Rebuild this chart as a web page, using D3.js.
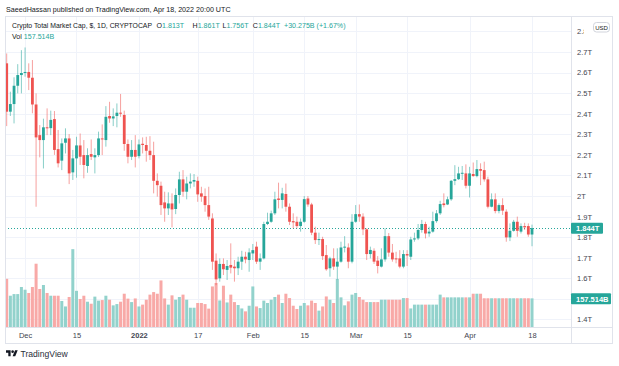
<!DOCTYPE html>
<html><head><meta charset="utf-8">
<script src="https://cdn.jsdelivr.net/npm/d3@7"></script>
<style>body{margin:0;background:#fff}svg{display:block}</style>
</head><body>
<svg id="c" width="619" height="366"></svg>
<script>
// ---- data (values in trillions USD, volume in billions USD) ----
const startDate = "2021-11-26";
const open = [2.645,2.41,2.447,2.536,2.588,2.598,2.603,2.575,2.445,2.296,2.272,2.334,2.33,2.374,2.228,2.172,2.259,2.28,2.115,2.183,2.246,2.199,2.146,2.204,2.188,2.199,2.28,2.272,2.389,2.377,2.389,2.405,2.394,2.253,2.191,2.224,2.194,2.254,2.248,2.22,2.199,2.074,2.05,1.969,1.94,1.964,1.937,2.005,2.081,2.021,2.061,2.07,2.074,2.013,2.0,1.956,1.891,1.686,1.6,1.67,1.641,1.665,1.657,1.649,1.681,1.705,1.689,1.721,1.754,1.681,1.697,1.864,1.875,1.916,1.988,1.981,2.01,1.948,1.878,1.875,1.854,1.875,1.988,1.959,1.822,1.786,1.791,1.713,1.649,1.697,1.657,1.681,1.75,1.75,1.681,1.875,1.912,1.9,1.838,1.718,1.734,1.686,1.657,1.692,1.805,1.725,1.697,1.697,1.657,1.718,1.705,1.789,1.794,1.835,1.864,1.818,1.827,1.878,1.916,1.964,1.959,1.984,2.074,2.082,2.11,2.11,2.05,2.107,2.097,2.131,2.126,2.081,1.948,1.984,1.927,1.956,1.924,1.799,1.831,1.875,1.827,1.854,1.854,1.813];
const high = [2.693,2.507,2.577,2.641,2.709,2.722,2.645,2.661,2.499,2.345,2.376,2.426,2.415,2.413,2.321,2.28,2.329,2.301,2.224,2.288,2.304,2.272,2.232,2.275,2.232,2.313,2.348,2.437,2.458,2.426,2.45,2.496,2.415,2.275,2.272,2.296,2.275,2.285,2.288,2.291,2.264,2.11,2.07,2.021,2.018,2.013,2.037,2.118,2.126,2.094,2.11,2.107,2.094,2.045,2.037,2.045,1.916,1.721,1.697,1.697,1.689,1.77,1.689,1.705,1.734,1.729,1.746,1.767,1.778,1.721,1.875,1.919,1.929,2.021,2.065,2.04,2.061,1.964,1.916,1.9,1.891,2.0,2.0,1.967,1.851,1.822,1.802,1.762,1.705,1.746,1.746,1.778,1.805,1.77,1.912,1.956,1.959,1.916,1.843,1.754,1.746,1.708,1.746,1.843,1.82,1.767,1.729,1.737,1.737,1.737,1.802,1.822,1.864,1.884,1.875,1.851,1.924,1.932,1.977,2.013,1.997,2.078,2.15,2.142,2.146,2.154,2.142,2.163,2.175,2.159,2.167,2.094,2.013,2.013,1.964,1.989,1.935,1.867,1.884,1.9,1.867,1.87,1.867,1.861];
const low = [2.34,2.389,2.353,2.499,2.499,2.58,2.515,2.402,1.948,2.188,2.134,2.296,2.296,2.2,2.139,2.126,2.207,2.058,2.078,2.089,2.151,2.086,2.113,2.175,2.11,2.19,2.199,2.24,2.356,2.34,2.334,2.385,2.22,2.159,2.175,2.139,2.183,2.207,2.167,2.175,2.013,1.997,1.908,1.875,1.908,1.848,1.912,1.964,1.997,1.984,2.037,2.045,1.972,1.972,1.924,1.884,1.641,1.567,1.584,1.616,1.592,1.624,1.584,1.616,1.641,1.673,1.632,1.689,1.67,1.641,1.692,1.859,1.87,1.908,1.94,1.94,1.924,1.859,1.843,1.843,1.827,1.87,1.948,1.81,1.767,1.762,1.689,1.637,1.608,1.641,1.595,1.676,1.726,1.649,1.673,1.87,1.875,1.81,1.689,1.697,1.67,1.624,1.653,1.681,1.705,1.681,1.673,1.649,1.649,1.66,1.689,1.778,1.786,1.822,1.794,1.802,1.822,1.87,1.908,1.945,1.956,1.977,2.053,2.078,2.078,2.037,1.993,2.094,2.091,2.053,2.07,1.94,1.945,1.916,1.916,1.908,1.778,1.781,1.827,1.802,1.818,1.835,1.802,1.756];
const close = [2.41,2.447,2.536,2.588,2.598,2.603,2.575,2.445,2.285,2.272,2.334,2.33,2.37,2.224,2.159,2.256,2.28,2.11,2.183,2.246,2.191,2.151,2.199,2.191,2.199,2.28,2.277,2.385,2.377,2.387,2.405,2.402,2.253,2.191,2.224,2.191,2.251,2.248,2.22,2.199,2.074,2.053,1.956,1.94,1.964,1.935,2.005,2.081,2.021,2.061,2.07,2.078,2.008,1.997,1.956,1.9,1.681,1.595,1.67,1.644,1.66,1.652,1.649,1.681,1.705,1.692,1.726,1.737,1.681,1.697,1.864,1.875,1.916,1.984,1.981,2.013,1.948,1.875,1.872,1.854,1.875,1.985,1.959,1.822,1.786,1.791,1.708,1.644,1.697,1.657,1.681,1.75,1.754,1.681,1.875,1.912,1.9,1.838,1.718,1.738,1.681,1.66,1.692,1.805,1.725,1.692,1.692,1.657,1.718,1.711,1.789,1.794,1.835,1.864,1.818,1.827,1.878,1.916,1.961,1.956,1.984,2.074,2.082,2.11,2.113,2.05,2.11,2.097,2.131,2.123,2.081,1.948,1.984,1.927,1.956,1.929,1.799,1.831,1.875,1.831,1.854,1.848,1.813,1.844];
const volume = [265,172,181,181,220,205,187,220,348,209,231,187,172,172,172,143,113,165,428,199,154,172,139,128,167,145,148,172,150,119,126,139,183,156,137,157,113,123,150,178,192,183,256,157,123,174,150,165,178,150,106,106,132,132,126,101,223,242,146,227,135,178,137,121,102,86,117,223,113,104,145,132,150,165,178,132,183,159,117,99,117,132,119,145,132,90,113,168,150,132,264,163,119,141,178,187,165,150,137,137,137,137,150,150,150,150,150,150,159,159,102,123,123,123,123,123,123,123,178,163,163,163,163,163,163,163,163,183,183,183,158,158,158,158,158,158,158,158,158,158,158,158,158,157.514];
const priceTicks = [1.4,1.5,1.6,1.7,1.8,1.9,2.0,2.1,2.2,2.3,2.4,2.5,2.6,2.7,2.8];
const timeTickDates = ["2021-12-01","2021-12-15","2022-01-01","2022-01-17","2022-02-01","2022-02-15","2022-03-01","2022-03-15","2022-04-01","2022-04-18"];
const timeTickLabels = ["Dec","15","2022","17","Feb","15","Mar","15","Apr","18"];
const lastPrice = 1.844, lastVolume = 157.514;
const legendTitle = "Crypto Total Market Cap, $, 1D, CRYPTOCAP";
const legendKeys = ["O", "H", "L", "C"];
const legendVals = ["1.813T", "1.861T", "1.756T", "1.844T"];
const legendChange = "+30.275B (+1.67%)";

// ---- layout ----
const FONT = "'Liberation Sans', Arial, sans-serif";
const green = "#26a69a", red = "#ef5350";
const L = 5, R = 613, T = 16, B = 344, axisX = 571, plotB = 327;
const parse = d3.utcParse("%Y-%m-%d");
const t0 = parse(startDate);
const dates = open.map((_, i) => d3.utcDay.offset(t0, i));
const data = dates.map((d, i) => ({d, o: open[i], h: high[i], l: low[i], c: close[i], v: volume[i]}));

const x = d3.scaleUtc().domain([t0, parse("2022-04-18")]).range([6.7, 532]);
const y = d3.scaleLinear().domain([1.3635, 2.875]).range([plotB, T]);
const yv = d3.scaleLinear().domain([0, 1710]).range([plotB, T]);

const svg = d3.select("#c").style("font-family", FONT);
svg.append("rect").attr("width", 619).attr("height", 366).attr("fill", "#fff");

// header
svg.append("text").attr("x", 6).attr("y", 12).style("font-size", "7.15px").attr("fill", "#131722")
  .text("SaeedHassan published on TradingView.com, Apr 18, 2022 20:00 UTC");

const defs = svg.append("defs");
defs.append("clipPath").attr("id", "plot").append("rect").attr("x", L).attr("y", T).attr("width", axisX - L).attr("height", plotB - T);

// grid
const grid = svg.append("g");
grid.selectAll("line.h").data(priceTicks).join("line")
  .attr("x1", L).attr("x2", axisX).attr("y1", d => Math.round(y(d)) + 0.5).attr("y2", d => Math.round(y(d)) + 0.5)
  .attr("stroke", "#f0f3fa");
grid.selectAll("line.v").data(timeTickDates).join("line")
  .attr("x1", d => Math.round(x(parse(d))) + 0.5).attr("x2", d => Math.round(x(parse(d))) + 0.5)
  .attr("y1", T).attr("y2", plotB).attr("stroke", "#f0f3fa");

const plot = svg.append("g").attr("clip-path", "url(#plot)");

// volume
plot.selectAll("rect.vol").data(data).join("rect")
  .attr("x", d => x(d.d) - 1.5).attr("width", 3)
  .attr("y", d => yv(d.v)).attr("height", d => plotB - yv(d.v))
  .attr("fill", d => d.c >= d.o ? "#92d2cc" : "#f8a9a7");

// price line
plot.append("line").attr("x1", L).attr("x2", axisX).attr("y1", Math.round(y(lastPrice)) + 0.5).attr("y2", Math.round(y(lastPrice)) + 0.5)
  .attr("stroke", green).attr("stroke-dasharray", "1,2");

// wicks
plot.selectAll("line.wick").data(data).join("line")
  .attr("x1", d => x(d.d)).attr("x2", d => x(d.d))
  .attr("y1", d => y(d.h)).attr("y2", d => y(d.l))
  .attr("stroke", d => d.c >= d.o ? green : red).attr("stroke-opacity", 0.55).attr("stroke-width", 1);

// bodies
plot.selectAll("rect.body").data(data).join("rect")
  .attr("x", d => x(d.d) - 1.4).attr("width", 2.8)
  .attr("y", d => y(Math.max(d.o, d.c)))
  .attr("height", d => Math.max(1, Math.abs(y(d.o) - y(d.c))))
  .attr("fill", d => d.c >= d.o ? green : red);

// frame
const frame = svg.append("g").attr("stroke", "#e0e3eb").attr("fill", "none");
frame.append("rect").attr("x", L + 0.5).attr("y", T + 0.5).attr("width", R - L - 1).attr("height", B - T - 1);
frame.append("line").attr("x1", axisX + 0.5).attr("x2", axisX + 0.5).attr("y1", T).attr("y2", B);
frame.append("line").attr("x1", L).attr("x2", R).attr("y1", plotB + 0.5).attr("y2", plotB + 0.5);

// price axis (labels hidden behind the volume badge are skipped)
const fmtP = d => (Math.round(d * 10) / 10) + "T";
const visibleTicks = priceTicks.filter(p => Math.abs(y(p) - yv(lastVolume)) > 8);
const pAxis = svg.append("g").attr("transform", `translate(${axisX},0)`)
  .call(d3.axisRight(y).tickValues(visibleTicks).tickFormat(fmtP).tickSize(0).tickPadding(6));
pAxis.select(".domain").remove();
pAxis.selectAll("text").attr("fill", "#434651").style("font-size", "7.5px").style("font-family", FONT);

// time axis
const tAxis = svg.append("g").attr("transform", `translate(0,${plotB})`)
  .call(d3.axisBottom(x).tickValues(timeTickDates.map(parse)).tickFormat((d, i) => timeTickLabels[i]).tickSize(0).tickPadding(6));
tAxis.select(".domain").remove();
tAxis.selectAll("text").attr("fill", "#434651").style("font-size", "7.5px").style("font-family", FONT)
  .style("font-weight", (d, i) => timeTickLabels[i] === "2022" ? "bold" : "normal");

// legend
const leg = svg.append("g").style("font-size", "7.1px").attr("fill", "#131722");
leg.append("text").attr("x", 12).attr("y", 28.3).style("font-size", "6.85px").text(legendTitle);
const keyX = [156.5, 192.5, 222.5, 252.8];
legendKeys.forEach((k, i) => {
  const t = leg.append("text").attr("x", keyX[i]).attr("y", 28.3);
  t.append("tspan").text(k);
  t.append("tspan").attr("fill", green).text(legendVals[i]);
});
leg.append("text").attr("x", 284).attr("y", 28.3).attr("fill", green).text(legendChange);
const l2 = leg.append("text").attr("x", 12).attr("y", 38.5);
l2.append("tspan").text("Vol ");
l2.append("tspan").attr("fill", green).text("157.514B");

// value labels on axis
const lbl = svg.append("g").style("font-size", "7.5px").style("font-weight", "bold");
lbl.append("rect").attr("x", axisX).attr("y", y(lastPrice) - 5.5).attr("width", 32).attr("height", 11).attr("rx", 1).attr("fill", green);
lbl.append("text").attr("x", axisX + 5).attr("y", y(lastPrice) + 2.7).attr("fill", "#fff").text("1.844T");
lbl.append("rect").attr("x", axisX).attr("y", yv(lastVolume) - 5).attr("width", 40).attr("height", 11).attr("rx", 1).attr("fill", green);
lbl.append("text").attr("x", axisX + 5).attr("y", yv(lastVolume) + 3.2).attr("fill", "#fff").text("157.514B");

// USD badge (its white backing hides the rest of the top tick label)
svg.append("rect").attr("x", 584).attr("y", 20).attr("width", 27).attr("height", 14).attr("fill", "#fff");
svg.append("rect").attr("x", 593.5).attr("y", 22.5).attr("width", 16).attr("height", 9.5).attr("rx", 3)
  .attr("fill", "#fff").attr("stroke", "#d1d4dc");
svg.append("text").attr("x", 601.5).attr("y", 29.6).attr("text-anchor", "middle").style("font-size", "6px").attr("fill", "#131722").text("USD");

// TradingView logo
const logo = svg.append("g").attr("transform", "translate(6,349) scale(0.33)").attr("fill", "#131722");
logo.append("path").attr("d", "M14 22H7V11H0V4h14v18zM28 22h-8l7.5-18h8L28 22z");
logo.append("circle").attr("cx", 20).attr("cy", 8).attr("r", 4);
svg.append("text").attr("x", 20.5).attr("y", 357).style("font-size", "8.6px").attr("fill", "#2a2e39").text("TradingView");
</script>
</body></html>
